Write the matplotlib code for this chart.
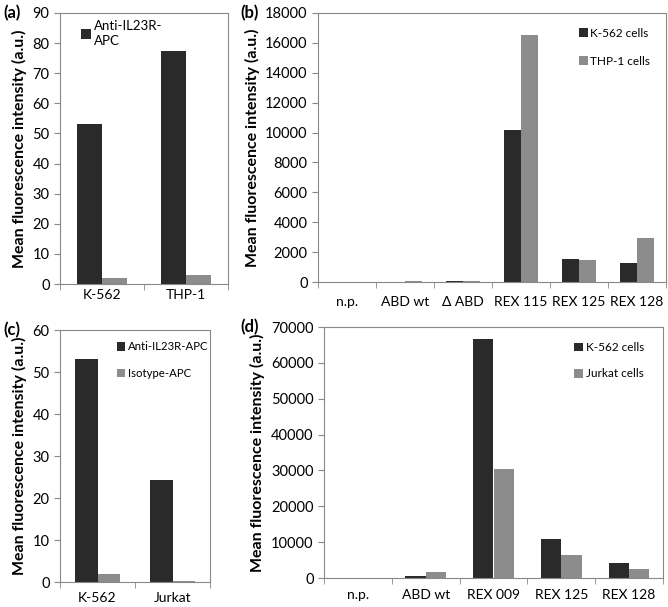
import matplotlib
matplotlib.use("Agg")
import matplotlib.pyplot as plt
import numpy as np

plt.rcParams['font.family'] = ['Lato', 'DejaVu Sans']

DARK = '#2a2a2a'
GRAY = '#8c8c8c'

# Panel (a)
a_cats = ['K-562', 'THP-1']
a_anti = [53, 77.5]
a_iso = [2, 3]

# Panel (b)
b_cats = ['n.p.', 'ABD wt', 'Δ ABD', 'REX 115', 'REX 125', 'REX 128']
b_k562 = [0, 20, 100, 10200, 1550, 1250]
b_thp1 = [0, 80, 80, 16550, 1500, 2950]

# Panel (c)
c_cats = ['K-562', 'Jurkat']
c_anti = [53, 24.2]
c_iso = [1.9, 0.3]

# Panel (d)
d_cats = ['n.p.', 'ABD wt', 'REX 009', 'REX 125', 'REX 128']
d_k562 = [0, 600, 66700, 10800, 4200]
d_jurkat = [0, 1700, 30300, 6300, 2500]

W, H = 668, 607
fig = plt.figure(figsize=(W / 100, H / 100), dpi=100)


def add_ax(left, top, right, bottom):
    return fig.add_axes([left / W, 1 - bottom / H, (right - left) / W, (bottom - top) / H])


def style(ax, cats, ymax, step, xpad):
    n = len(cats)
    ax.set_xlim(-0.5, n - 0.5)
    ax.set_ylim(0, ymax)
    ax.set_yticks(np.arange(0, ymax + step / 2, step))
    ax.set_xticks(np.arange(n))
    ax.set_xticklabels(cats, fontsize=10)
    ax.set_xticks(np.arange(-0.5, n, 1.0), minor=True)
    ax.tick_params(axis='x', which='major', length=0, pad=xpad)
    ax.tick_params(axis='x', which='minor', length=4, direction='out', color='#888888')
    ax.tick_params(axis='y', length=4, direction='out', labelsize=10.5, color='#888888')
    for s in ['left', 'right', 'top', 'bottom']:
        ax.spines[s].set_color('#888888')
        ax.spines[s].set_linewidth(0.8)
    ax.set_ylabel('Mean fluorescence intensity (a.u.)', fontsize=11.5, fontweight='bold')
    return ax


def leg(ax, anchor, spacing, fs, handles=None):
    kw = dict(loc='upper right', bbox_to_anchor=anchor, frameon=False, fontsize=fs,
              handlelength=0.75, handleheight=0.75, handletextpad=0.25,
              labelspacing=spacing, borderpad=0, borderaxespad=0)
    if handles is not None:
        kw['handles'] = handles
        kw['loc'] = 'upper left'
    return ax.legend(**kw)


bw = 0.3

# (a)
ax = add_ax(60, 13, 228, 284)
x = np.arange(len(a_cats))
b1 = ax.bar(x - bw / 2, a_anti, bw, color=DARK, label='Anti-IL23R-\nAPC')
ax.bar(x + bw / 2, a_iso, bw, color=GRAY)
style(ax, a_cats, 90, 10, 3.5)
lg = leg(ax, (0.125, 0.975), 1.0, 9.5, handles=[b1])
for t in lg.get_texts():
    t.set_linespacing(1.3)
fig.text(3 / W, 1 - 13 / H, '(a)', fontsize=12, fontweight='bold', va='center')

# (b)
ax = add_ax(318, 13, 666, 282)
x = np.arange(len(b_cats))
ax.bar(x - bw / 2, b_k562, bw, color=DARK, label='K-562 cells')
ax.bar(x + bw / 2, b_thp1, bw, color=GRAY, label='THP-1 cells')
style(ax, b_cats, 18000, 2000, 10)
leg(ax, (0.955, 0.945), 1.45, 8.5)
fig.text(240 / W, 1 - 13 / H, '(b)', fontsize=12, fontweight='bold', va='center')

# (c)
ax = add_ax(60, 330, 210, 582)
x = np.arange(len(c_cats))
ax.bar(x - bw / 2, c_anti, bw, color=DARK, label='Anti-IL23R-APC')
ax.bar(x + bw / 2, c_iso, bw, color=GRAY, label='Isotype-APC')
style(ax, c_cats, 60, 10, 7)
leg(ax, (0.99, 0.955), 1.35, 8.2)
fig.text(3 / W, 1 - 330 / H, '(c)', fontsize=12, fontweight='bold', va='center')

# (d)
ax = add_ax(324, 327, 663, 578)
x = np.arange(len(d_cats))
ax.bar(x - bw / 2, d_k562, bw, color=DARK, label='K-562 cells')
ax.bar(x + bw / 2, d_jurkat, bw, color=GRAY, label='Jurkat cells')
style(ax, d_cats, 70000, 10000, 8)
leg(ax, (0.945, 0.94), 1.3, 8.5)
fig.text(240 / W, 1 - 327 / H, '(d)', fontsize=12, fontweight='bold', va='center')

fig.savefig('out.png', dpi=100)
